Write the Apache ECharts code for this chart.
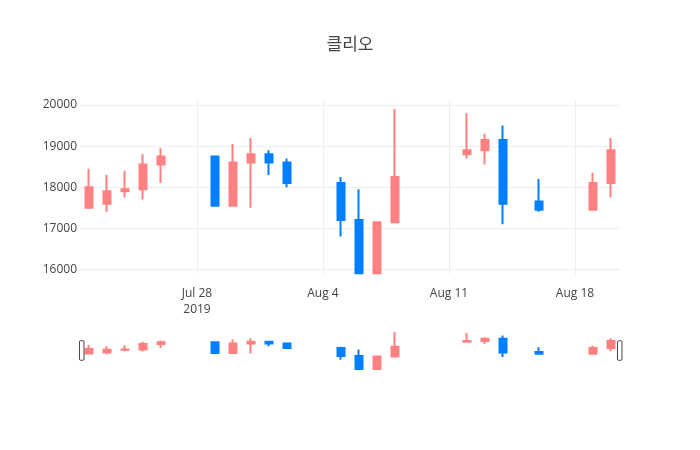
<!DOCTYPE html>
<html>
<head>
<meta charset="utf-8">
<script src="https://cdn.jsdelivr.net/npm/echarts@6/dist/echarts.min.js"></script>
<style>html,body{margin:0;padding:0;background:#fff}#c{width:700px;height:450px}</style>
</head>
<body>
<div id="c"></div>
<script>
var dates = ['2019-07-22','2019-07-23','2019-07-24','2019-07-25','2019-07-26',
             '2019-07-29','2019-07-30','2019-07-31','2019-08-01','2019-08-02',
             '2019-08-05','2019-08-06','2019-08-07','2019-08-08',
             '2019-08-12','2019-08-13','2019-08-14','2019-08-16',
             '2019-08-19','2019-08-20'];
var openV  = [17500,17600,17900,17950,18550, 18750,17550,18600,18800,18600, 18100,17200,15750,17150, 18800,18900,19150,17650, 17450,18100];
var closeV = [18000,17900,17950,18550,18750, 17550,18600,18800,18600,18100, 17200,15750,17150,18250, 18900,19150,17600,17450, 18100,18900];
var lowV   = [17500,17400,17750,17700,18100, 17550,17550,17500,18300,18000, 16800,15750,15750,17150, 18700,18550,17100,17400, 17450,17750];
var highV  = [18450,18300,18400,18800,18950, 18750,19050,19200,18900,18700, 18250,17950,17150,19900, 19800,19300,19500,18200, 18350,19200];
var xTickDates = ['2019-07-28','2019-08-04','2019-08-11','2019-08-18'];
var yTicks = [16000,17000,18000,19000,20000];
var xRange = ['2019-07-21T12:00:00Z','2019-08-20T12:00:00Z'];
var yRange = [15881, 20122];

function ts(s){ return Date.parse(s.length === 10 ? s + 'T00:00:00Z' : s); }
var months = ['Jan','Feb','Mar','Apr','May','Jun','Jul','Aug','Sep','Oct','Nov','Dec'];
var data = dates.map(function(d,i){ return [ts(d), openV[i], closeV[i], lowV[i], highV[i]]; });
var xTicks = xTickDates.map(ts);
var lows = Math.min.apply(null, lowV), highs = Math.max.apply(null, highV);

var up = '#ff8080', down = '#0080ff';
var font = '"Open Sans", "Noto Sans CJK KR", sans-serif';
var candleStyle = { color: up, color0: down, borderColor: up, borderColor0: down, borderWidth: 2 };
var G = { left: 80, right: 80, top: 100, height: 174.3 };

var chart = echarts.init(document.getElementById('c'), null, {renderer:'canvas'});
chart.setOption({
  animation: false,
  backgroundColor: '#fff',
  title: { text: '클리오', left: 'center', top: 30,
           textStyle: { fontFamily: '"Noto Sans CJK KR", sans-serif', fontSize: 17, fontWeight: 'normal', color: '#444' } },
  grid: [
    { left: G.left, right: G.right, top: G.top, height: G.height },
    { left: 80, right: 80, top: 332, height: 37 }
  ],
  xAxis: [
    { type: 'value', gridIndex: 0, min: ts(xRange[0]), max: ts(xRange[1]),
      axisLine: { show: false }, axisTick: { show: false, customValues: xTicks },
      splitLine: { show: true, lineStyle: { color: '#eee', width: 1 } },
      axisLabel: { customValues: xTicks, color: '#444', fontSize: 12, fontFamily: font, margin: 12, lineHeight: 15.5,
        formatter: function(v){ var d = new Date(v); var s = months[d.getUTCMonth()] + ' ' + d.getUTCDate();
          return v === xTicks[0] ? s + '\n' + d.getUTCFullYear() : s; } } },
    { type: 'value', gridIndex: 1, min: ts(xRange[0]), max: ts(xRange[1]), show: false,
      splitLine: { show: false } }
  ],
  yAxis: [
    { type: 'value', gridIndex: 0, min: yRange[0], max: yRange[1],
      axisLine: { show: false }, axisTick: { show: false, customValues: yTicks },
      splitLine: { show: true, lineStyle: { color: '#eee', width: 1 } },
      axisLabel: { customValues: yTicks, color: '#444', fontSize: 12, fontFamily: font, margin: 3,
        formatter: function(v){ return String(v); } } },
    { type: 'value', gridIndex: 1, min: lows, max: highs, show: false, splitLine: { show: false } }
  ],
  dataZoom: [{
    type: 'slider', xAxisIndex: 1, filterMode: 'none', start: 0, end: 100,
    left: 80, right: 80, top: 331, height: 39,
    backgroundColor: 'rgba(0,0,0,0)', borderColor: 'rgba(0,0,0,0)', fillerColor: 'rgba(0,0,0,0)',
    showDetail: false, brushSelect: false, showDataShadow: false, moveHandleSize: 0,
    dataBackground: { lineStyle: { opacity: 0 }, areaStyle: { opacity: 0 } },
    selectedDataBackground: { lineStyle: { opacity: 0 }, areaStyle: { opacity: 0 } },
    handleIcon: 'path://M1,0 h2.4 a1,1 0 0 1 1,1 v17 a1,1 0 0 1 -1,1 h-2.4 a1,1 0 0 1 -1,-1 v-17 a1,1 0 0 1 1,-1 z',
    handleSize: 19.5,
    handleStyle: { color: '#fff', borderColor: '#444', borderWidth: 1 },
    emphasis: { handleStyle: { color: '#fff', borderColor: '#444' } }
  }],
  graphic: [{
    type: 'rect', z: 100, silent: true,
    shape: { x: G.left - 10, y: G.top + G.height, width: 700 - G.left - G.right + 20, height: 8 },
    style: { fill: '#fff' }
  }],
  series: [
    { type: 'candlestick', xAxisIndex: 0, yAxisIndex: 0, data: data, barWidth: 8, clip: true, itemStyle: candleStyle },
    { type: 'candlestick', xAxisIndex: 1, yAxisIndex: 1, data: data, barWidth: 8, clip: true, itemStyle: candleStyle }
  ]
});
</script>
</body>
</html>
